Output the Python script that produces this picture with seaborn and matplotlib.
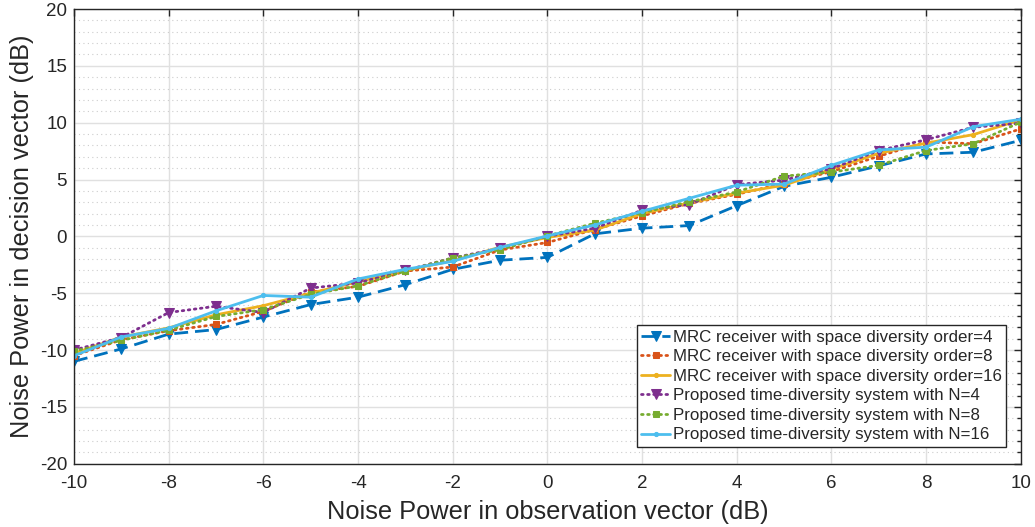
import numpy as np
import pandas as pd
import seaborn as sns
import matplotlib
matplotlib.use("Agg")
import matplotlib.pyplot as plt
from matplotlib.ticker import MultipleLocator

x_db = [-10, -9, -8, -7, -6, -5, -4, -3, -2, -1, 0, 1, 2, 3, 4, 5, 6, 7, 8, 9, 10]

mrc4 = [-11.0, -9.9, -8.6, -8.2, -7.1, -6.0, -5.35, -4.25, -2.9, -2.1, -1.85,
        0.22, 0.72, 0.95, 2.7, 4.4, 5.2, 6.2, 7.25, 7.4, 8.45]
mrc8 = [-10.5, -9.1, -8.3, -7.75, -6.6, -4.9, -4.4, -3.05, -2.7, -1.2, -0.54,
        0.6, 1.8, 2.9, 3.7, 4.65, 5.7, 7.05, 8.3, 8.15, 9.45]
mrc16 = [-10.3, -8.85, -8.05, -6.9, -6.1, -5.0, -4.0, -3.0, -2.15, -0.95, -0.1,
         0.55, 2.0, 2.95, 3.8, 4.5, 5.9, 7.3, 8.2, 8.95, 10.25]
td4 = [-10.0, -8.9, -6.7, -6.15, -6.7, -4.55, -4.1, -3.0, -1.9, -1.05, 0.0,
       0.72, 2.3, 2.8, 4.55, 4.95, 5.95, 7.55, 8.5, 9.6, 9.95]
td8 = [-10.1, -9.15, -8.25, -7.05, -6.45, -5.1, -4.35, -3.05, -1.9, -1.18, 0.04,
       1.15, 2.08, 3.05, 3.9, 5.3, 5.65, 6.25, 7.55, 8.15, 10.05]
td16 = [-10.5, -8.85, -8.1, -6.55, -5.2, -5.35, -3.75, -2.9, -2.2, -0.98, 0.04,
        1.0, 2.2, 3.35, 4.5, 4.6, 6.25, 7.6, 7.85, 9.65, 10.3]

labels = ["MRC receiver with space diversity order=4",
          "MRC receiver with space diversity order=8",
          "MRC receiver with space diversity order=16",
          "Proposed time-diversity system with N=4",
          "Proposed time-diversity system with N=8",
          "Proposed time-diversity system with N=16"]
series = [mrc4, mrc8, mrc16, td4, td8, td16]

colors = ["#0072BD", "#D95319", "#EDB120", "#7E2F8E", "#77AC30", "#4DBEEE"]
styles = [dict(dashes=(5, 2.5), marker="v", ms=7),
          dict(dashes=(0.6, 1.6), marker="s", ms=5),
          dict(dashes=None, marker=".", ms=6),
          dict(dashes=(0.6, 1.6), marker="v", ms=7.5),
          dict(dashes=(0.6, 1.6), marker="s", ms=5),
          dict(dashes=None, marker=".", ms=6)]

sns.set_style("white")
plt.rcParams["font.family"] = ["Liberation Sans", "DejaVu Sans"]
plt.rcParams["axes.unicode_minus"] = False

fig = plt.figure(figsize=(10.35, 5.27), dpi=100)
ax = fig.add_axes([0.0715, 0.1201, 0.9147, 0.8628])

for lab, ys, c, st in zip(labels, series, colors, styles):
    df = pd.DataFrame({"x": x_db, "y": ys})
    kw = dict(color=c, lw=2, marker=st["marker"], ms=st["ms"],
              markeredgecolor=c, markerfacecolor=c, label=lab)
    sns.lineplot(data=df, x="x", y="y", ax=ax, **kw)
    ln = ax.lines[-1]
    if st["dashes"] is not None:
        ln.set_dashes(st["dashes"])
        if st["dashes"][0] < 1:
            ln.set_dash_capstyle("round")

ax.set_xlim(-10, 10)
ax.set_ylim(-20, 20)
ax.xaxis.set_major_locator(MultipleLocator(2))
ax.yaxis.set_major_locator(MultipleLocator(5))
ax.yaxis.set_minor_locator(MultipleLocator(1))
ax.grid(True, which="major", color="#e0e0e0", lw=1, ls="-")
ax.grid(True, which="minor", axis="y", color="#cccccc", lw=0.8, ls=(0, (1, 3)))
ax.set_axisbelow(True)
ax.tick_params(which="both", direction="in", top=True, right=True,
               labelsize=13.5, colors="#262626", length=5, width=1)
ax.tick_params(which="minor", length=3)
ax.tick_params(axis="x", which="minor", bottom=False, top=False)
ax.tick_params(axis="x", which="major", pad=8)
ax.tick_params(axis="y", which="major", pad=5)
for s in ax.spines.values():
    s.set_color("#262626")
    s.set_linewidth(1)
    s.set_visible(True)

ax.set_xlabel("Noise Power in observation vector (dB)", fontsize=18.3, color="#262626", labelpad=6)
ax.set_ylabel("Noise Power in decision vector (dB)", fontsize=18.3, color="#262626", labelpad=4)

leg = ax.legend(loc="lower right", bbox_to_anchor=(0.9845, 0.0374), fontsize=12.2,
                frameon=True, fancybox=False, framealpha=1, edgecolor="#262626",
                handlelength=1.75, handletextpad=0.15, labelspacing=0.27,
                borderpad=0.25, borderaxespad=0)
leg.get_frame().set_linewidth(1)

fig.savefig("out.png", dpi=100)
